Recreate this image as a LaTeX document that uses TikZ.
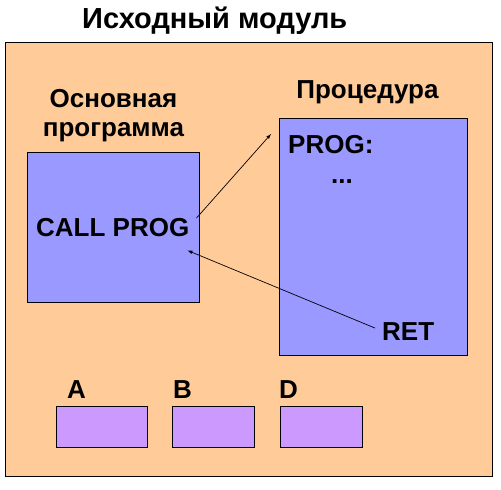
\documentclass[tikz,border=0pt]{standalone}
\usepackage{fontspec}
\setmainfont{Liberation Sans}
\usetikzlibrary{arrows, calc, positioning}
\definecolor{peach}{HTML}{FFCC99}
\definecolor{procblue}{HTML}{9999FF}
\definecolor{lilac}{HTML}{CC99FF}
\tikzstyle{module} = [rectangle, draw=black, fill=peach, line width=1.2pt, minimum width=487pt, minimum height=434pt, inner sep=0pt]
\tikzstyle{block} = [rectangle, draw=black, fill=procblue, line width=0.9pt, inner sep=0pt]
\tikzstyle{databox} = [rectangle, draw=black, fill=lilac, line width=0.9pt, minimum width=82pt, minimum height=41pt, inner sep=0pt]
\tikzstyle{term} = [font=\fontsize{26}{29}\selectfont\bfseries, inner sep=0pt]
\tikzstyle{arrow} = [->, >=latex, line width=0.7pt]
\begin{document}
\begin{tikzpicture}[x=1pt, y=-1pt]
	\useasboundingbox (0,0) rectangle (501,490);
	\node (Module) [module, anchor=north west] at (5,42) {};
	\node (Title) [term, font=\fontsize{29}{34}\selectfont\bfseries, anchor=base west] at (82,28) {Исходный модуль};
	\node (Main) [block, minimum width=172pt, minimum height=150pt, anchor=north west] at (27,152) {};
	\node (Proc) [block, minimum width=188pt, minimum height=237pt, anchor=north west] at (279,118) {};
	\node (MainTitle) [term, align=center, above = 10pt of Main] {Основная\\программа};
	\node (ProcTitle) [term, above = 14pt of Proc, xshift=-6pt] {Процедура};
	\node (CallProg) [term, anchor=base west] at (36,236) {CALL PROG};
	\node (ProgEntry) [term, anchor=base west] at (288,153) {PROG:};
	\node (Dots) [term, anchor=base west] at (331,183) {...};
	\node (Ret) [term, anchor=base west] at (382,340) {RET};
	\node (SegA) [databox, minimum width=91pt, anchor=north west] at (56,406) {};
	\node (SegB) [databox, right = 24pt of SegA] {};
	\node (SegD) [databox, right = 25pt of SegB] {};
	\node (LabelA) [term, anchor=base west] at (67,398) {A};
	\node (LabelB) [term, anchor=base west] at (173,398) {B};
	\node (LabelD) [term, anchor=base west] at (279,398) {D};
	\draw [arrow] ($(CallProg.east)+(7,-9)$) -- ($(Proc.north west)+(-8,16)$);
	\draw [arrow] ($(Ret.west)+(-7,-3)$) -- ($(CallProg.south east)+(-2,14)$);
\end{tikzpicture}
\end{document}
